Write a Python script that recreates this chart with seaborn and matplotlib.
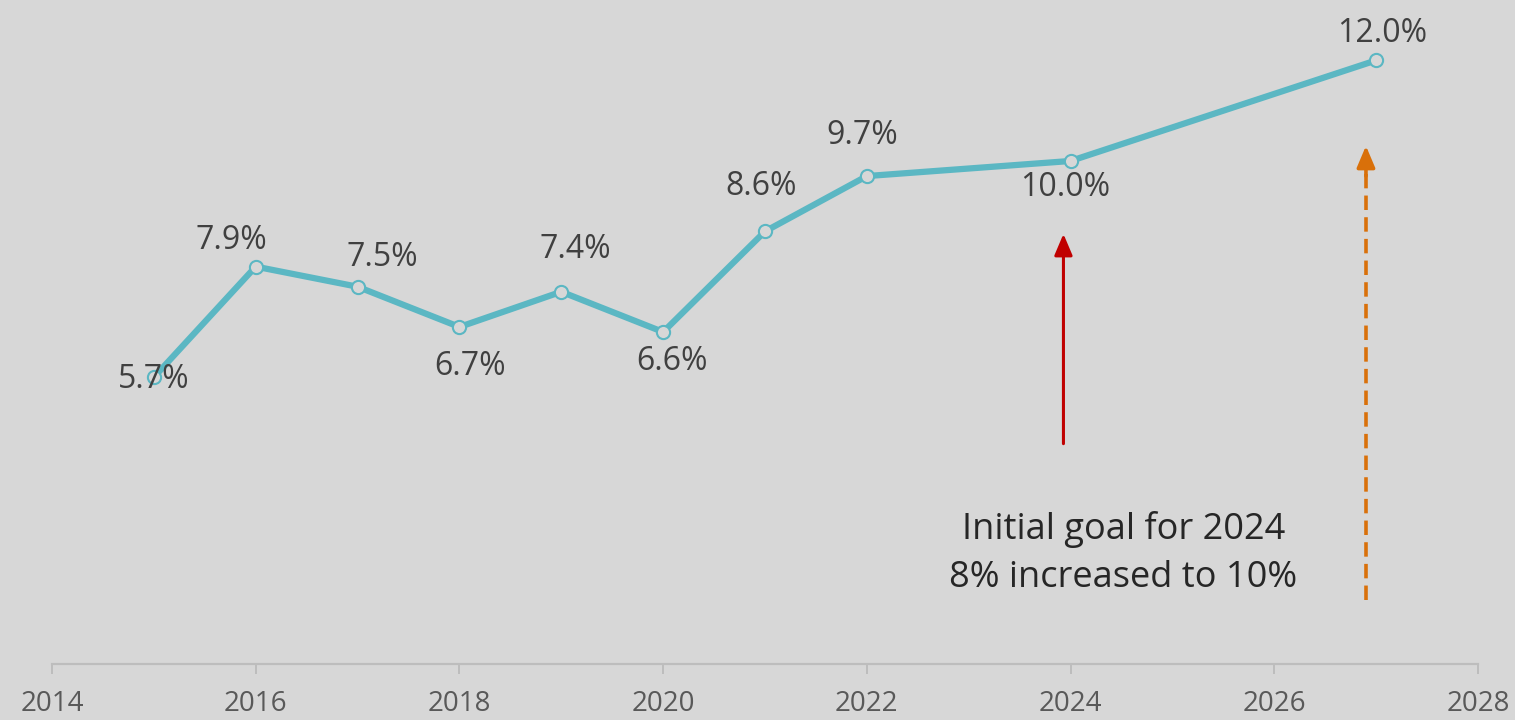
import numpy as np
import pandas as pd
import matplotlib
matplotlib.use('Agg')
import matplotlib.pyplot as plt
import seaborn as sns

# share values
years = [2015, 2016, 2017, 2018, 2019, 2020, 2021, 2022, 2024, 2027]
shares = [5.7, 7.9, 7.5, 6.7, 7.4, 6.6, 8.6, 9.7, 10.0, 12.0]
labels = ['5.7%', '7.9%', '7.5%', '6.7%', '7.4%', '6.6%', '8.6%', '9.7%', '10.0%', '12.0%']
tick_years = [2014, 2016, 2018, 2020, 2022, 2024, 2026, 2028]

# label offsets in pixels (dx, dy up)
label_dx = [0, -24, 25, 11, 14, 9, -4, -5, -5, 6]
label_dy = [-2, 26, 29, -40, 42, -30, 45, 41, -27, 27]

bg = '#d7d7d7'
teal = '#5bb7c3'

sns.set_style('white')
plt.rcParams['font.family'] = ['Open Sans', 'DejaVu Sans']

df = pd.DataFrame({'year': years, 'share': shares})

fig = plt.figure(figsize=(15.15, 7.2), dpi=100, facecolor=bg)
ax = fig.add_axes([52 / 1515, 56 / 720, 1426 / 1515, 664 / 720])
ax.set_facecolor(bg)

sns.lineplot(data=df, x='year', y='share', ax=ax, color=teal, lw=4.5,
             marker='o', markersize=9.5, markerfacecolor=bg,
             markeredgecolor=teal, markeredgewidth=1.5)

px = 0.72
for x, y, t, dx, dy in zip(years, shares, labels, label_dx, label_dy):
    ax.annotate(t, (x, y), xytext=(dx * px, dy * px), textcoords='offset points',
                ha='center', va='center', fontsize=23, color='#404040')

head = '-|>,head_width=0.55,head_length=1.3'

# red arrow: initial goal
ax.annotate('', xy=(2023.93, 8.55), xytext=(2023.93, 4.38),
            arrowprops=dict(arrowstyle=head, color='#c00000', lw=2.2,
                            shrinkA=0, shrinkB=0))

# orange dashed arrow: new goal
ax.plot([2026.9, 2026.9], [1.27, 9.9], ls='--', color='#d9700a', lw=2.6,
        dashes=(4, 2))
ax.annotate('', xy=(2026.9, 10.3), xytext=(2026.9, 9.7),
            arrowprops=dict(arrowstyle=head, color='#d9700a', lw=2.6,
                            shrinkA=0, shrinkB=0))

ax.text(2024.52, 2.2, 'Initial goal for 2024\n8% increased to 10%',
        ha='center', va='center', fontsize=26, color='#262626', linespacing=1.45)

ax.set_xlim(2014, 2028)
ax.set_ylim(0, 13.2)
ax.set_xticks(tick_years)
ax.set_xticklabels([str(y) for y in tick_years])
ax.set_yticks([])
ax.set_xlabel('')
ax.set_ylabel('')

for s in ['left', 'right', 'top']:
    ax.spines[s].set_visible(False)
ax.spines['bottom'].set_color('#bdbdbd')
ax.spines['bottom'].set_linewidth(1.6)
ax.tick_params(axis='x', direction='out', length=7, width=1.4, color='#bdbdbd',
               labelsize=20, labelcolor='#595959', pad=12, bottom=True)

fig.savefig('out.png', dpi=100, facecolor=bg)
